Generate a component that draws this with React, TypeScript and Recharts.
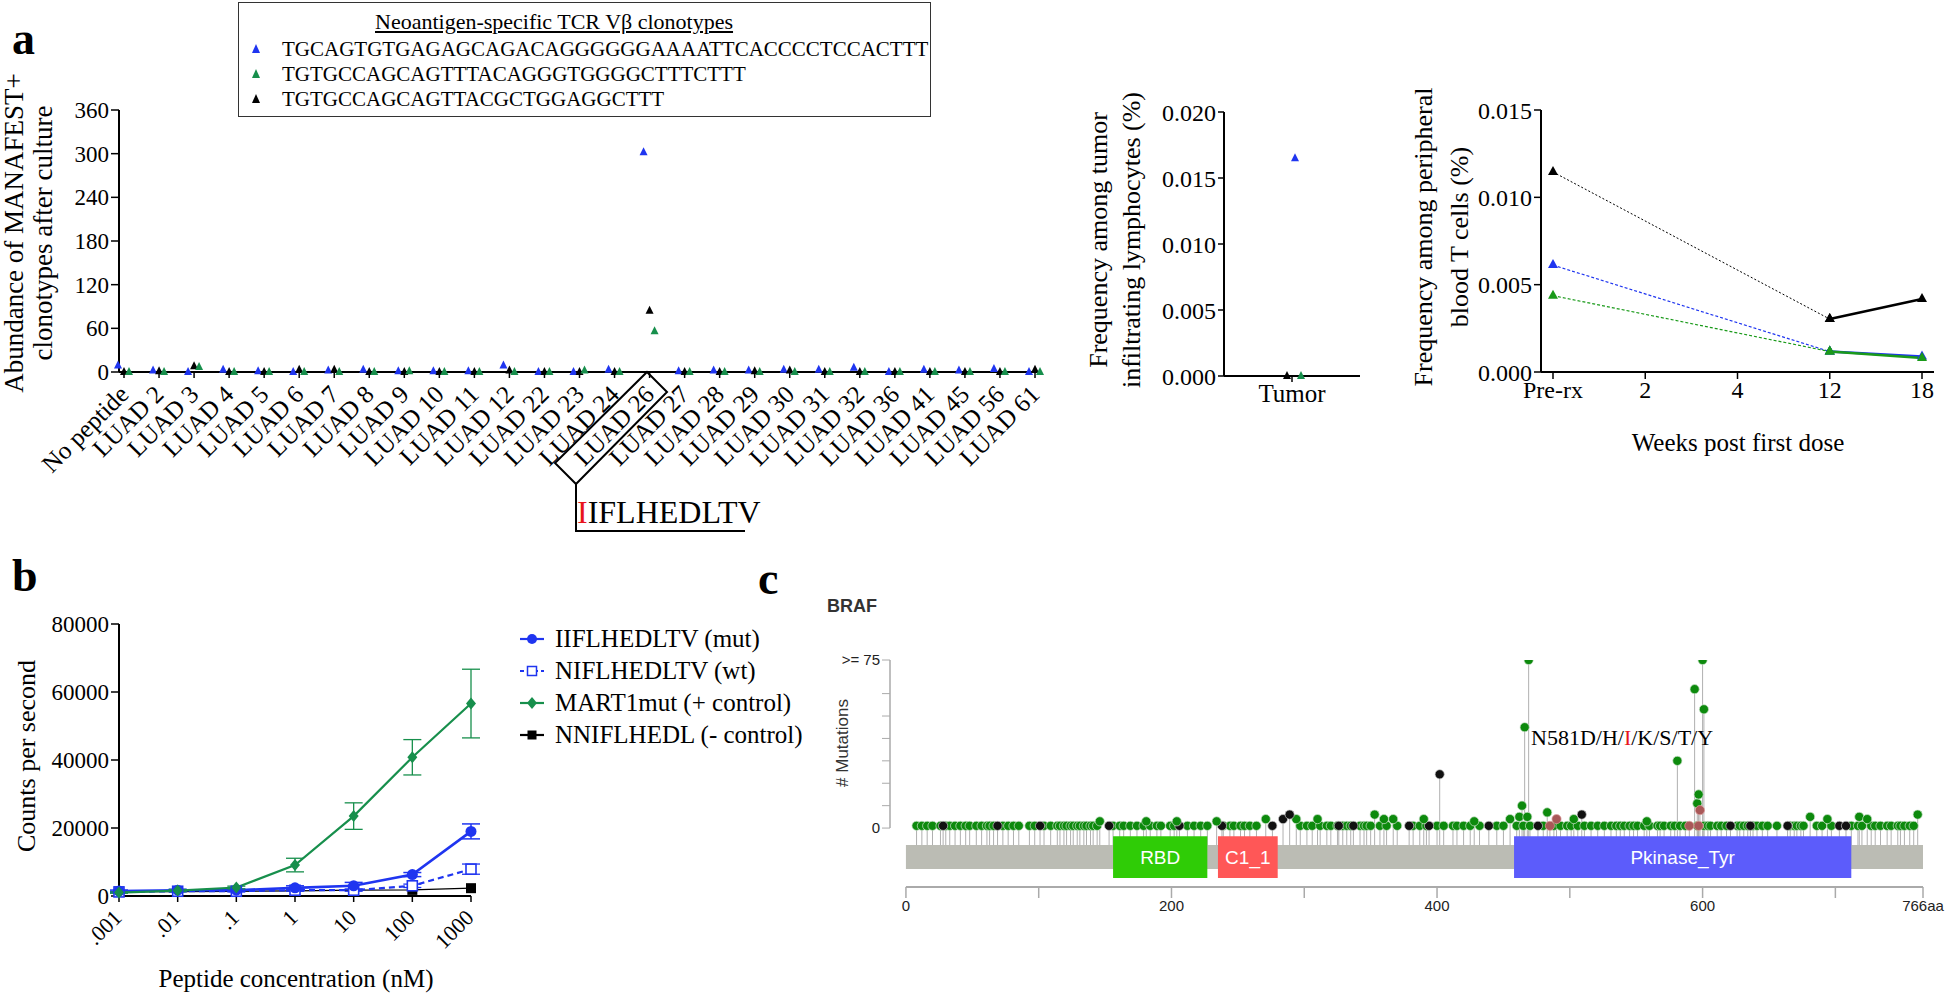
import React from 'react';
import {
  ComposedChart,
  Scatter,
  Line,
  XAxis,
  YAxis,
  ErrorBar,
  ReferenceArea,
  ReferenceLine,
} from 'recharts';

const SERIF = '"Liberation Serif", "Times New Roman", serif';
const SANS = '"Liberation Sans", Arial, sans-serif';
const BLUE = '#1f35f0';
const GREEN = '#178f4c';
const BLACK = '#000';

// ---- panel a: clonotype abundance after culture
const peptides = [
  'No peptide', 'LUAD 2', 'LUAD 3', 'LUAD 4', 'LUAD 5', 'LUAD 6', 'LUAD 7', 'LUAD 8', 'LUAD 9',
  'LUAD 10', 'LUAD 11', 'LUAD 12', 'LUAD 22', 'LUAD 23', 'LUAD 24', 'LUAD 26', 'LUAD 27',
  'LUAD 28', 'LUAD 29', 'LUAD 30', 'LUAD 31', 'LUAD 32', 'LUAD 36', 'LUAD 41', 'LUAD 45',
  'LUAD 56', 'LUAD 61',
];
const abundBlue = [9, 2, 0, 3, 1, 0, 2, 3, 1, 1, 1, 9, 0, 0, 3, 302, 1, 2, 2, 3, 3, 6, 0, 3, 2, 4, 0];
const abundGreen = [0, 0, 7, 0, 0, 0, 0, 0, 1, 0, 0, 0, 0, 2, 0, 56, 0, 0, 0, 0, 0, 0, 0, 0, 0, 0, 0];
const abundBlack = [0, 1, 8, 0, 0, 3, 3, 0, 0, 0, 0, 2, 0, 0, 0, 84, 0, 0, 1, 2, 0, 0, 0, 0, 0, 0, 3];
const abundTicks = [0, 60, 120, 180, 240, 300, 360];

const clonotypes = [
  { seq: 'TGCAGTGTGAGAGCAGACAGGGGGGAAAATTCACCCCTCCACTTT', color: BLUE },
  { seq: 'TGTGCCAGCAGTTTACAGGGTGGGGCTTTCTTT', color: GREEN },
  { seq: 'TGTGCCAGCAGTTACGCTGGAGGCTTT', color: BLACK },
];

// ---- panel a: tumor infiltrating lymphocytes
const tilGroups = ['Tumor'];
const tilBlue = [0.0165];
const tilGreen = [0];
const tilBlack = [0];

// ---- panel a: peripheral blood over time
const weeks = ['Pre-rx', '2', '4', '12', '18'];
const pbBlack = [0.01145, null, null, 0.00303, 0.00418];
const pbBlue = [0.00612, null, null, 0.00117, 0.00089];
const pbGreen = [0.00437, null, null, 0.00117, 0.0008];

// ---- panel b: dose response
const concs = ['.001', '.01', '.1', '1', '10', '100', '1000'];
const mutCps = [1450, 1700, 1700, 2400, 3000, 6300, 19000];
const mutErr = [300, 300, 300, 600, 1000, 600, 2200];
const wtCps = [1200, 1400, 1400, 1700, 1700, 3000, 7900];
const wtErr = [200, 200, 200, 300, 300, 500, 1500];
const martCps = [1000, 1600, 2500, 9100, 23500, 40800, 56600];
const martErr = [200, 300, 400, 2000, 3900, 5200, 10100];
const negCps = [1300, 1300, 1400, 1500, 1700, 1800, 2300];

// ---- panel c: BRAF lollipop
const greenSingle = [
  8, 12, 16, 20, 26, 30, 33, 37, 41, 45, 48, 53, 57, 61, 63, 66, 73, 77, 81, 85, 93, 97, 104, 109,
  114, 116, 119, 121, 124, 126, 129, 131, 134, 136, 139, 141, 144, 156, 161, 164, 169, 174, 179,
  184, 189, 192, 199, 202, 212, 217, 222, 227, 239, 244, 247, 252, 255, 259, 264, 297, 302, 306,
  312, 317, 320, 325, 329, 332, 335, 342, 345, 347, 350, 357, 362, 370, 382, 387, 392, 400, 405,
  412, 415, 420, 425, 432, 445, 450, 460, 465, 470, 480, 488, 493, 498, 501, 506, 511, 516, 521,
  526, 531, 535, 538, 541, 545, 548, 551, 556, 560, 566, 568, 571, 576, 579, 583, 587, 596, 601,
  604, 606, 611, 614, 618, 626, 628, 631, 634, 638, 641, 645, 649, 656, 666, 669, 671, 674, 676,
  686, 690, 697, 712, 717, 720, 727, 730, 734, 739, 742, 747, 749, 752, 756, 759,
];
const greenMulti = [
  { pos: 146, count: 3 }, { pos: 181, count: 3 }, { pos: 204, count: 3 }, { pos: 234, count: 3 },
  { pos: 271, count: 4 }, { pos: 294, count: 4 }, { pos: 310, count: 4 }, { pos: 353, count: 6 },
  { pos: 360, count: 4 }, { pos: 367, count: 4 }, { pos: 390, count: 4 }, { pos: 428, count: 3 },
  { pos: 455, count: 4 }, { pos: 462, count: 5 }, { pos: 468, count: 5 }, { pos: 483, count: 7 },
  { pos: 503, count: 4 }, { pos: 558, count: 3 }, { pos: 681, count: 5 }, { pos: 694, count: 4 },
  { pos: 718, count: 5 }, { pos: 724, count: 4 }, { pos: 762, count: 6 },
  { pos: 464, count: 10 }, { pos: 466, count: 45 }, { pos: 469, count: 75 }, { pos: 581, count: 30 },
  { pos: 594, count: 62 }, { pos: 596, count: 11 }, { pos: 597, count: 15 }, { pos: 600, count: 75 },
  { pos: 601, count: 53 },
];
const blackSingle = [28, 69, 101, 153, 206, 238, 276, 326, 337, 379, 394, 439, 476, 621, 636, 664, 703, 708];
const blackMulti = [{ pos: 284, count: 4 }, { pos: 289, count: 6 }, { pos: 509, count: 6 }, { pos: 402, count: 24 }];
const redMuts = [{ pos: 485, count: 1 }, { pos: 490, count: 4 }, { pos: 590, count: 1 }, { pos: 597, count: 1 }, { pos: 598, count: 8 }];
const domains = [
  { name: 'RBD', start: 156, end: 227, color: '#2fcc06' },
  { name: 'C1_1', start: 235, end: 280, color: '#ff5757' },
  { name: 'Pkinase_Tyr', start: 458, end: 712, color: '#5c5cfb' },
];
const PROTEIN_LEN = 766;
const posTicks = [0, 100, 200, 300, 400, 500, 600, 700, 766];
const mutTicks = [0, 10, 20, 30, 40, 50, 60, 75];

// ---- derived tables
const abundData = peptides.map((p, i) => ({ peptide: p, blue: abundBlue[i], green: abundGreen[i], black: abundBlack[i] }));
const tilData = tilGroups.map((g, i) => ({ group: g, blue: tilBlue[i], green: tilGreen[i], black: tilBlack[i] }));
const splitIdx = weeks.indexOf('12');
const pbData = weeks.map((w, i) => ({
  week: w,
  blackA: i <= splitIdx ? pbBlack[i] : null,
  blackB: i >= splitIdx ? pbBlack[i] : null,
  blueA: i <= splitIdx ? pbBlue[i] : null,
  blueB: i >= splitIdx ? pbBlue[i] : null,
  greenA: i <= splitIdx ? pbGreen[i] : null,
  greenB: i >= splitIdx ? pbGreen[i] : null,
}));
const doseData = concs.map((c, i) => ({
  conc: c,
  mut: mutCps[i], mutErr: mutErr[i],
  wt: wtCps[i], wtErr: wtErr[i],
  mart: martCps[i], martErr: martErr[i],
  neg: negCps[i],
}));
const toDots = (arr: number[]) => arr.map((pos) => ({ pos, count: 1 }));

const STEM_BASE = -7.6;
const stemKey = (d: any) => [d.count - STEM_BASE, 0];

// ---- marker shapes
const triShape = (color: string, dx: number, s = 4) => (p: any) => {
  if (p.cx == null || p.cy == null || Number.isNaN(p.cy)) return <g />;
  const x = p.cx + dx;
  const y = p.cy;
  return <polygon points={`${x},${y - s - 1} ${x - s},${y + s - 1} ${x + s},${y + s - 1}`} fill={color} />;
};
const triDot = (color: string) => (p: any) => {
  if (p.value == null || p.cy == null) return <g key={p.index} />;
  const { cx, cy } = p;
  return <polygon key={p.index} points={`${cx},${cy - 6} ${cx - 5},${cy + 3} ${cx + 5},${cy + 3}`} fill={color} />;
};
const circleDot = (color: string) => (p: any) => <circle key={p.index} cx={p.cx} cy={p.cy} r={5.5} fill={color} />;
const openSquareDot = (color: string) => (p: any) => (
  <rect key={p.index} x={p.cx - 5} y={p.cy - 5} width={10} height={10} fill="#fff" stroke={color} strokeWidth={1.6} />
);
const diamondDot = (color: string) => (p: any) => (
  <polygon key={p.index} points={`${p.cx},${p.cy - 6} ${p.cx + 5},${p.cy} ${p.cx},${p.cy + 6} ${p.cx - 5},${p.cy}`} fill={color} />
);
const squareDot = (color: string) => (p: any) => (
  <rect key={p.index} x={p.cx - 5} y={p.cy - 5} width={10} height={10} fill={color} />
);
const lolli = (fill: string, stroke: string) => (p: any) => (
  <circle cx={p.cx} cy={p.cy} r={4.6} fill={fill} stroke={stroke} strokeWidth={0.7} />
);

const RotTick = ({ x, y, payload, size, dx, dy }: any) => (
  <g transform={`translate(${x + dx},${y + dy})`}>
    <text textAnchor="end" transform="rotate(-45)" fontFamily={SERIF} fontSize={size} fill="#000">
      {payload.value}
    </text>
  </g>
);

const axisLine = { stroke: '#000', strokeWidth: 2 };
const tickLine = { stroke: '#000', strokeWidth: 1.5 };
const serifTick = (size: number) => ({ fontFamily: SERIF, fontSize: size, fill: '#000' });

const abs = (left: number, top: number): React.CSSProperties => ({ position: 'absolute', left, top });

function VTitle({ cx, cy, lines, size, lh }: { cx: number; cy: number; lines: string[]; size: number; lh: number }) {
  return (
    <div
      style={{
        position: 'absolute', left: cx, top: cy, transform: 'translate(-50%,-50%) rotate(-90deg)',
        whiteSpace: 'nowrap', textAlign: 'center', fontFamily: SERIF, fontSize: size, lineHeight: `${lh}px`, color: '#000',
      }}
    >
      {lines.map((l) => (
        <div key={l}>{l}</div>
      ))}
    </div>
  );
}

function PanelLetter({ x, y, t }: { x: number; y: number; t: string }) {
  return (
    <div style={{ ...abs(x, y), fontFamily: SERIF, fontWeight: 'bold', fontSize: 46, lineHeight: '46px' }}>{t}</div>
  );
}

const bLegend = [
  { label: 'IIFLHEDLTV (mut)', color: BLUE, dash: false, marker: 'circle' },
  { label: 'NIFLHEDLTV (wt)', color: BLUE, dash: true, marker: 'open' },
  { label: 'MART1mut (+ control)', color: GREEN, dash: false, marker: 'diamond' },
  { label: 'NNIFLHEDL (- control)', color: BLACK, dash: false, marker: 'square' },
];

function LegendIcon({ color, dash, marker }: { color: string; dash: boolean; marker: string }) {
  return (
    <svg width={26} height={14} style={{ marginRight: 10 }}>
      <line x1={1} y1={7} x2={25} y2={7} stroke={color} strokeWidth={2.2} strokeDasharray={dash ? '4 3' : undefined} />
      {marker === 'circle' && <circle cx={13} cy={7} r={5} fill={color} />}
      {marker === 'open' && <rect x={8.5} y={2.5} width={9} height={9} fill="#fff" stroke={color} strokeWidth={1.5} />}
      {marker === 'diamond' && <polygon points="13,1 18,7 13,13 8,7" fill={color} />}
      {marker === 'square' && <rect x={8.5} y={2.5} width={9} height={9} fill={color} />}
    </svg>
  );
}

// shared geometry of the lollipop plot (axes + overlay)
const C_W = 1146;
const C_H = 405;
const C_X_DOMAIN: [number, number] = [-12, PROTEIN_LEN];
const C_Y_DOMAIN: [number, number] = [-26.3, 75];

export default function App() {
  return (
    <div style={{ position: 'absolute', left: 0, top: 0, width: 1946, height: 995, background: '#fff', overflow: 'hidden' }}>
      {/* ================= panel a: abundance ================= */}
      <PanelLetter x={12} y={16} t="a" />
      <div style={abs(0, 0)}>
        <ComposedChart width={1060} height={560} data={abundData} margin={{ top: 110, right: 20, bottom: 38, left: 59 }}>
          <XAxis
            dataKey="peptide"
            type="category"
            interval={0}
            height={150}
            padding={{ left: 5, right: 5 }}
            axisLine={axisLine}
            tickLine={tickLine}
            tickSize={6}
            tick={<RotTick size={25} dx={6} dy={16} />}
          />
          <YAxis
            domain={[0, 360]}
            ticks={abundTicks}
            width={60}
            axisLine={axisLine}
            tickLine={tickLine}
            tickSize={8}
            tick={serifTick(23)}
          />
          <Scatter dataKey="blue" shape={triShape(BLUE, -6)} isAnimationActive={false} />
          <Scatter dataKey="black" shape={triShape(BLACK, 0)} isAnimationActive={false} />
          <Scatter dataKey="green" shape={triShape(GREEN, 5)} isAnimationActive={false} />
        </ComposedChart>
      </div>
      <VTitle cx={29} cy={233} lines={['Abundance of MANAFEST+', 'clonotypes after culture']} size={27} lh={29} />

      {/* clonotype legend */}
      <div style={{ ...abs(238, 2), width: 691, height: 113, border: '1.5px solid #333', fontFamily: SERIF, color: '#000' }}>
        <div style={{ position: 'absolute', left: 136, top: 6, fontSize: 22, lineHeight: '26px', textDecoration: 'underline' }}>
          Neoantigen-specific TCR Vβ clonotypes
        </div>
        {clonotypes.map((c, i) => (
          <div key={c.seq} style={{ position: 'absolute', left: 12, top: 33 + i * 25, fontSize: 21, lineHeight: '26px', display: 'flex', alignItems: 'center' }}>
            <svg width={12} height={12} style={{ marginRight: 19 }}>
              <polygon points="5,1 1,10 9,10" fill={c.color} />
            </svg>
            {c.seq}
          </div>
        ))}
      </div>

      {/* LUAD 26 highlight */}
      <svg width={1946} height={600} style={abs(0, 0)}>
        <polygon points="647,372 667,392 576,484 555,463" fill="none" stroke="#000" strokeWidth={2} />
        <polyline points="576,484 576,531 745,531" fill="none" stroke="#000" strokeWidth={2} />
      </svg>
      <div style={{ ...abs(577, 494), fontFamily: SERIF, fontSize: 32, lineHeight: '36px', whiteSpace: 'nowrap' }}>
        <span style={{ color: '#e8141c' }}>I</span>IFLHEDLTV
      </div>

      {/* ================= panel a: tumor ================= */}
      <div style={abs(1140, 0)}>
        <ComposedChart width={240} height={450} data={tilData} margin={{ top: 112, right: 20, bottom: 34, left: 4 }}>
          <XAxis dataKey="group" type="category" height={40} axisLine={axisLine} tickLine={tickLine} tickSize={6} tick={serifTick(25)} />
          <YAxis
            domain={[0, 0.02]}
            ticks={[0, 0.005, 0.01, 0.015, 0.02]}
            tickFormatter={(v: number) => v.toFixed(3)}
            width={80}
            axisLine={axisLine}
            tickLine={tickLine}
            tickSize={6}
            tick={serifTick(24)}
          />
          <Scatter dataKey="black" shape={triShape(BLACK, -5)} isAnimationActive={false} />
          <Scatter dataKey="blue" shape={triShape(BLUE, 3)} isAnimationActive={false} />
          <Scatter dataKey="green" shape={triShape(GREEN, 9)} isAnimationActive={false} />
        </ComposedChart>
      </div>
      <VTitle cx={1115} cy={240} lines={['Frequency among tumor', 'infiltrating lymphocytes (%)']} size={26} lh={33} />

      {/* ================= panel a: peripheral blood ================= */}
      <div style={abs(1380, 0)}>
        <ComposedChart width={566} height={460} data={pbData} margin={{ top: 110, right: 12, bottom: 48, left: 76 }}>
          <XAxis dataKey="week" type="category" height={40} padding={{ left: 12, right: 12 }} axisLine={axisLine} tickLine={tickLine} tickSize={7} tick={serifTick(24)} />
          <YAxis
            domain={[0, 0.015]}
            ticks={[0, 0.005, 0.01, 0.015]}
            tickFormatter={(v: number) => v.toFixed(3)}
            width={85}
            axisLine={axisLine}
            tickLine={tickLine}
            tickSize={7}
            tick={serifTick(24)}
          />
          <Line dataKey="blackA" stroke={BLACK} strokeWidth={1} strokeDasharray="2 2" connectNulls dot={triDot(BLACK)} isAnimationActive={false} />
          <Line dataKey="blackB" stroke={BLACK} strokeWidth={2.6} dot={triDot(BLACK)} isAnimationActive={false} />
          <Line dataKey="blueA" stroke={BLUE} strokeWidth={1.2} strokeDasharray="3 2" connectNulls dot={triDot(BLUE)} isAnimationActive={false} />
          <Line dataKey="blueB" stroke={BLUE} strokeWidth={2.4} dot={triDot(BLUE)} isAnimationActive={false} />
          <Line dataKey="greenA" stroke="#1a9a1a" strokeWidth={1.2} strokeDasharray="3 2" connectNulls dot={triDot('#1a9a1a')} isAnimationActive={false} />
          <Line dataKey="greenB" stroke="#1a9a1a" strokeWidth={2.6} dot={triDot('#1a9a1a')} isAnimationActive={false} />
        </ComposedChart>
      </div>
      <VTitle cx={1442} cy={237} lines={['Frequency among peripheral', 'blood T cells (%)']} size={26} lh={36} />
      <div style={{ ...abs(1738, 443), transform: 'translate(-50%,-50%)', fontFamily: SERIF, fontSize: 25, whiteSpace: 'nowrap' }}>
        Weeks post first dose
      </div>

      {/* ================= panel b ================= */}
      <PanelLetter x={12} y={553} t="b" />
      <div style={abs(0, 560)}>
        <ComposedChart width={500} height={435} data={doseData} margin={{ top: 64, right: 29, bottom: 39, left: 39 }}>
          <XAxis
            dataKey="conc"
            type="category"
            interval={0}
            height={60}
            axisLine={axisLine}
            tickLine={tickLine}
            tickSize={6}
            tick={<RotTick size={22} dx={4} dy={15} />}
          />
          <YAxis
            domain={[0, 80000]}
            ticks={[0, 20000, 40000, 60000, 80000]}
            width={80}
            axisLine={axisLine}
            tickLine={tickLine}
            tickSize={8}
            tick={serifTick(23)}
          />
          <Line dataKey="neg" stroke={BLACK} strokeWidth={1.3} dot={squareDot(BLACK)} isAnimationActive={false} />
          <Line dataKey="wt" stroke={BLUE} strokeWidth={2.2} strokeDasharray="6 4" dot={openSquareDot(BLUE)} isAnimationActive={false}>
            <ErrorBar dataKey="wtErr" direction="y" width={9} stroke={BLUE} strokeWidth={1.3} />
          </Line>
          <Line dataKey="mut" stroke={BLUE} strokeWidth={2.6} dot={circleDot(BLUE)} isAnimationActive={false}>
            <ErrorBar dataKey="mutErr" direction="y" width={9} stroke={BLUE} strokeWidth={1.5} />
          </Line>
          <Line dataKey="mart" stroke={GREEN} strokeWidth={2.2} dot={diamondDot(GREEN)} isAnimationActive={false}>
            <ErrorBar dataKey="martErr" direction="y" width={9} stroke={GREEN} strokeWidth={1.3} />
          </Line>
        </ComposedChart>
      </div>
      <VTitle cx={27} cy={756} lines={['Counts per second']} size={26} lh={30} />
      <div style={{ ...abs(296, 979), transform: 'translate(-50%,-50%)', fontFamily: SERIF, fontSize: 25, whiteSpace: 'nowrap' }}>
        Peptide concentration (nM)
      </div>
      <div style={{ ...abs(519, 623), fontFamily: SERIF, fontSize: 25, color: '#000' }}>
        {bLegend.map((l) => (
          <div key={l.label} style={{ display: 'flex', alignItems: 'center', height: 32, whiteSpace: 'nowrap' }}>
            <LegendIcon color={l.color} dash={l.dash} marker={l.marker} />
            {l.label}
          </div>
        ))}
      </div>

      {/* ================= panel c ================= */}
      <PanelLetter x={758} y={556} t="c" />
      <div style={{ ...abs(827, 606), transform: 'translateY(-50%)', fontFamily: SANS, fontWeight: 'bold', fontSize: 18, color: '#333' }}>BRAF</div>
      <div style={abs(800, 590)}>
        <ComposedChart width={C_W} height={C_H} margin={{ top: 70, right: 23, bottom: 68, left: 30 }}>
          <XAxis
            dataKey="pos"
            type="number"
            domain={C_X_DOMAIN}
            allowDataOverflow
            ticks={posTicks}
            interval={0}
            tickFormatter={(v: number) => (v === PROTEIN_LEN ? `${v}aa` : v % 200 === 0 ? String(v) : '')}
            height={40}
            axisLine={false}
            tickLine={{ stroke: '#aaa', strokeWidth: 1.5 }}
            tickSize={11}
            tick={{ fontFamily: SANS, fontSize: 15, fill: '#222' }}
          />
          <YAxis
            dataKey="count"
            type="number"
            domain={C_Y_DOMAIN}
            allowDataOverflow
            ticks={mutTicks}
            interval={0}
            tickFormatter={(v: number) => (v === 75 ? '>= 75' : v === 0 ? '0' : '')}
            width={60}
            axisLine={false}
            tickLine={{ stroke: '#aaa', strokeWidth: 1 }}
            tickSize={8}
            tick={{ fontFamily: SANS, fontSize: 15, fill: '#222' }}
          />
          <ReferenceLine segment={[{ x: -12, y: 0 }, { x: -12, y: 75 }]} stroke="#aaa" strokeWidth={1.5} />
          <ReferenceLine segment={[{ x: 0, y: -26.3 }, { x: PROTEIN_LEN, y: -26.3 }]} stroke="#aaa" strokeWidth={2} />
          <ReferenceArea x1={0} x2={PROTEIN_LEN} y1={-18.3} y2={STEM_BASE} fill="#bbbcb4" fillOpacity={1} stroke="none" />
          <Scatter data={toDots(greenSingle)} dataKey="count" shape={lolli('#0d8a0d', '#cfe3cf')} isAnimationActive={false}>
            <ErrorBar dataKey={stemKey} direction="y" width={0} stroke="#b0b0b0" strokeWidth={1} />
          </Scatter>
          <Scatter data={toDots(blackSingle)} dataKey="count" shape={lolli('#111', '#ccc')} isAnimationActive={false}>
            <ErrorBar dataKey={stemKey} direction="y" width={0} stroke="#b0b0b0" strokeWidth={1} />
          </Scatter>
          <Scatter data={greenMulti} dataKey="count" shape={lolli('#0d8a0d', '#cfe3cf')} isAnimationActive={false}>
            <ErrorBar dataKey={stemKey} direction="y" width={0} stroke="#b0b0b0" strokeWidth={1} />
          </Scatter>
          <Scatter data={blackMulti} dataKey="count" shape={lolli('#111', '#ccc')} isAnimationActive={false}>
            <ErrorBar dataKey={stemKey} direction="y" width={0} stroke="#b0b0b0" strokeWidth={1} />
          </Scatter>
          <Scatter data={redMuts} dataKey="count" shape={lolli('#a85858', '#e0a0a0')} isAnimationActive={false}>
            <ErrorBar dataKey={stemKey} direction="y" width={0} stroke="#b0b0b0" strokeWidth={1} />
          </Scatter>
        </ComposedChart>
      </div>
      {/* domain overlay, drawn above the stems with the same scales */}
      <div style={abs(800, 590)}>
        <ComposedChart width={C_W} height={C_H} margin={{ top: 70, right: 23, bottom: 108, left: 90 }}>
          <XAxis dataKey="pos" type="number" domain={C_X_DOMAIN} allowDataOverflow hide />
          <YAxis dataKey="count" type="number" domain={C_Y_DOMAIN} allowDataOverflow hide />
          {domains.map((d) => (
            <ReferenceArea
              key={d.name}
              x1={d.start}
              x2={d.end}
              y1={-22.3}
              y2={-3.6}
              fill={d.color}
              fillOpacity={1}
              stroke="none"
              label={{ value: d.name, position: 'center', fill: '#fff', fontFamily: SANS, fontSize: 19 }}
            />
          ))}
        </ComposedChart>
      </div>
      <div style={{ ...abs(843, 743), transform: 'translate(-50%,-50%) rotate(-90deg)', fontFamily: SANS, fontSize: 17, color: '#333', whiteSpace: 'nowrap' }}>
        # Mutations
      </div>
      <div style={{ ...abs(1531, 738), transform: 'translateY(-50%)', fontFamily: SERIF, fontSize: 22, whiteSpace: 'nowrap' }}>
        N581D/H/<span style={{ color: '#e8141c' }}>I</span>/K/S/T/Y
      </div>
    </div>
  );
}
